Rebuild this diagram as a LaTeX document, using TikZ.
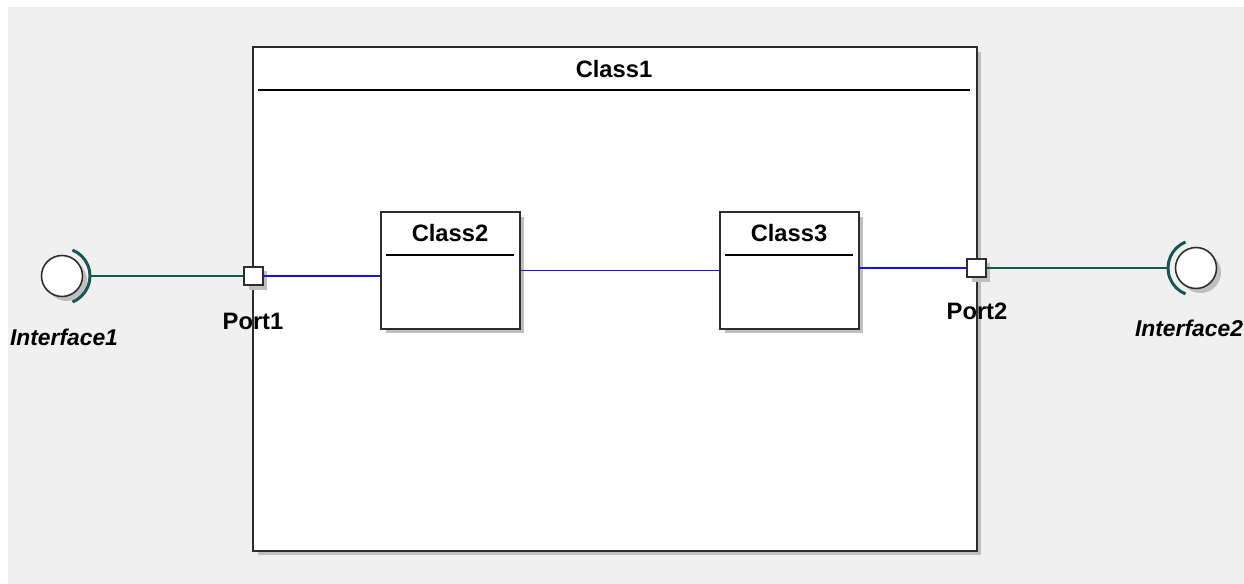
\documentclass[tikz,border=0pt]{standalone}
\usepackage{fontspec}
\setmainfont{Liberation Sans}
\usetikzlibrary{shadows}
\definecolor{canvasgray}{RGB}{240,240,240}
\definecolor{outlinegray}{RGB}{45,45,45}
\definecolor{delegteal}{RGB}{22,88,84}
\definecolor{assocblue}{RGB}{20,20,245}
\tikzset{
  uml box/.style={draw=outlinegray,line width=1.1pt,fill=white,inner sep=0pt,
    drop shadow={shadow xshift=0.09cm,shadow yshift=-0.09cm,fill=black!25,opacity=1}},
  uml title/.style={font=\bfseries\fontsize{13.5}{16}\selectfont,inner sep=0pt},
  header rule/.style={draw=black,line width=0.9pt},
  port box/.style={uml box,minimum size=0.37cm},
  port label/.style={font=\bfseries\fontsize{13.5}{16}\selectfont,inner sep=0pt},
  iface label/.style={font=\bfseries\itshape\fontsize{13}{16}\selectfont,inner sep=0pt},
  iface ball/.style={circle,uml box,line width=0.9pt,minimum size=0.82cm,outer sep=0.15cm},
  socket arc/.style={draw=delegteal,line width=1.7pt},
  assoc line/.style={draw=assocblue,line width=0.9pt},
  delegate line/.style={draw=delegteal,line width=0.9pt}
}

\begin{document}
\begin{tikzpicture}[x=0.02cm,y=-0.02cm]
        \useasboundingbox (0,0) rectangle (1244,584);
        \fill[canvasgray] (8,7) rectangle (1244,584);

        % outer class
        \node[uml box,minimum width=14.48cm,minimum height=10.08cm] (class1) at (615,299) {};
        \node[uml title] (class1title) at (614,69) {Class1};
        \draw[header rule] ([xshift=0.12cm,yshift=-0.88cm]class1.north west) -- ([xshift=-0.16cm,yshift=-0.88cm]class1.north east);

        % inner parts
        \node[uml box,minimum width=2.78cm,minimum height=2.34cm] (class2) at (450.5,270.5) {};
        \node[uml title] (class2title) at (450,233) {Class2};
        \draw[header rule] ([xshift=0.12cm,yshift=-0.88cm]class2.north west) -- ([xshift=-0.14cm,yshift=-0.88cm]class2.north east);

        \node[uml box,minimum width=2.78cm,minimum height=2.34cm] (class3) at (789.5,270.5) {};
        \node[uml title] (class3title) at (789,233) {Class3};
        \draw[header rule] ([xshift=0.12cm,yshift=-0.88cm]class3.north west) -- ([xshift=-0.14cm,yshift=-0.88cm]class3.north east);

        % ports
        \node[port box] (port1) at (253.5,276) {};
        \node[port label] (port1label) at (253,321) {Port1};
        \node[port box] (port2) at (976.5,268) {};
        \node[port label] (port2label) at (977,311) {Port2};

        % provided interfaces
        \node[iface ball] (iface1) at (62,276) {};
        \draw[socket arc] (iface1.center) ++(-68:0.56cm) arc[start angle=-68,end angle=68,radius=0.56cm];
        \node[iface label] (iface1label) at (64,337) {Interface1};
        \node[iface ball] (iface2) at (1196,268) {};
        \draw[socket arc] (iface2.center) ++(112:0.56cm) arc[start angle=112,end angle=248,radius=0.56cm];
        \node[iface label] (iface2label) at (1189,328) {Interface2};

        % connectors
        \draw[delegate line] (iface1.east) -- (port1.west);
        \draw[assoc line] (port1.east) -- (port1.east -| class2.west);
        \draw[assoc line] (class2.east) -- (class3.west);
        \draw[assoc line] (port2.west -| class3.east) -- (port2.west);
        \draw[delegate line] (port2.east) -- (iface2.west);
      \end{tikzpicture}
\end{document}
